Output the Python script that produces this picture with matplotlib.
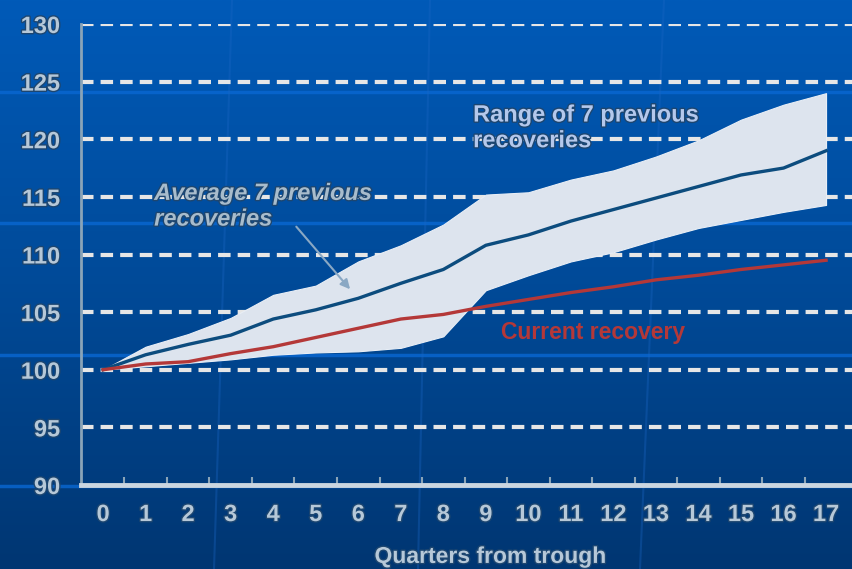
import matplotlib

matplotlib.use("Agg")
import matplotlib.pyplot as plt
import matplotlib.patheffects as pe
import numpy as np

# values (index, trough = 100)
quarters = list(range(18))
average_prev = [100, 101.3, 102.2, 103.0, 104.4, 105.2, 106.2, 107.5, 108.7, 110.8,
                111.7, 112.9, 113.9, 114.9, 115.9, 116.9, 117.5, 119.0]
range_high = [100, 102.0, 103.1, 104.5, 106.5, 107.3, 109.4, 110.8, 112.6, 115.2,
              115.4, 116.5, 117.3, 118.5, 119.9, 121.7, 123.0, 124.0]
range_low = [100, 100.3, 100.6, 100.9, 101.3, 101.5, 101.6, 101.9, 102.9, 106.9,
             108.2, 109.4, 110.2, 111.3, 112.3, 113.0, 113.7, 114.3]
current = [100, 100.5, 100.7, 101.4, 102.0, 102.8, 103.6, 104.4, 104.8, 105.5,
           106.1, 106.7, 107.2, 107.8, 108.2, 108.7, 109.1, 109.5]
y_ticks = [90, 95, 100, 105, 110, 115, 120, 125, 130]

plt.rcParams["font.family"] = ["Liberation Sans", "DejaVu Sans"]

W, H = 852, 569
fig = plt.figure(figsize=(W / 100, H / 100), dpi=100)

# blue gradient backdrop with a few lighter decorative lines
bg = fig.add_axes([0, 0, 1, 1])
grad = np.linspace(0, 1, 256).reshape(-1, 1)
cmap = matplotlib.colors.LinearSegmentedColormap.from_list("bg", ["#005ab8", "#004a98", "#003672"])
bg.imshow(grad, aspect="auto", cmap=cmap, extent=[0, W, H, 0])
for yy in (92, 223, 355, 486):
    bg.plot([0, W], [yy, yy], color="#0a68d2", lw=2.5, alpha=0.8)
for x0, x1 in ((232, 214), (664, 640), (430, 418)):
    bg.plot([x0, x1], [0, H], color="#1a66c4", lw=1.5, alpha=0.35)
bg.set_xlim(0, W)
bg.set_ylim(H, 0)
bg.axis("off")

ax = fig.add_axes([81 / W, 1 - 485 / H, 1 - 81 / W, (485 - 24) / H])
ax.patch.set_alpha(0)

outline = [pe.withStroke(linewidth=2, foreground="#1d4670")]
tick_color = "#b6c8d8"

for v in y_ticks:
    if v > 90:
        ax.axhline(v, color="#e6e6e6", lw=3, dashes=(3.0, 1.7), zorder=1)

ax.fill_between(quarters, range_low, range_high, color="#dde4ee", lw=0.8,
                edgecolor="#e8eef6", zorder=2)
ax.plot(quarters, average_prev, color="#0c4c7e", lw=2.4, zorder=3)
ax.plot(quarters, current, color="#b43838", lw=2.4, zorder=3)

ax.set_xlim(-0.52, 17.61)
ax.set_ylim(90, 130)
ax.set_yticks(y_ticks)
ax.set_xticks(quarters)
ax.set_xticks([q + 0.5 for q in quarters[:-1]], minor=True)
ax.tick_params(axis="y", length=0, pad=15, labelsize=17, labelcolor=tick_color)
ax.tick_params(axis="x", which="major", length=0, pad=13, labelsize=17, labelcolor=tick_color)
ax.tick_params(axis="x", which="minor", direction="in", length=6, width=1.5, color="#8aa4b8")
for lab in ax.get_xticklabels() + ax.get_yticklabels():
    lab.set_fontweight("bold")
    lab.set_path_effects(outline)

for side in ("top", "right"):
    ax.spines[side].set_visible(False)
ax.spines["left"].set_color("#8aa4b8")
ax.spines["left"].set_linewidth(2)
ax.spines["bottom"].set_color("#cbd6e0")
ax.spines["bottom"].set_linewidth(3.5)

ax.set_xlabel("Quarters from trough", fontsize=16.5, fontweight="bold", color=tick_color,
              path_effects=outline)
ax.xaxis.set_label_coords((490 - 81) / (W - 81), -0.13)

ax.text(8.7, 123.1, "Range of 7 previous\nrecoveries", fontsize=17, fontweight="bold",
        color="#b4c8ec", linespacing=1.15, va="top", path_effects=outline)
ax.text(1.2, 116.3, "Average 7 previous\nrecoveries", fontsize=17, fontweight="bold",
        style="italic", color="#a8bccc", linespacing=1.15, va="top", path_effects=outline)
ax.annotate("", xy=(5.85, 106.8), xytext=(4.5, 112.6),
            arrowprops=dict(arrowstyle="-|>", color="#8aa8c4", lw=1.5, mutation_scale=14),
            zorder=4)
ax.text(9.35, 103.2, "Current recovery", fontsize=16.5, fontweight="bold", color="#b43838",
        va="center")

fig.savefig("out.png", dpi=100)
plt.close(fig)
